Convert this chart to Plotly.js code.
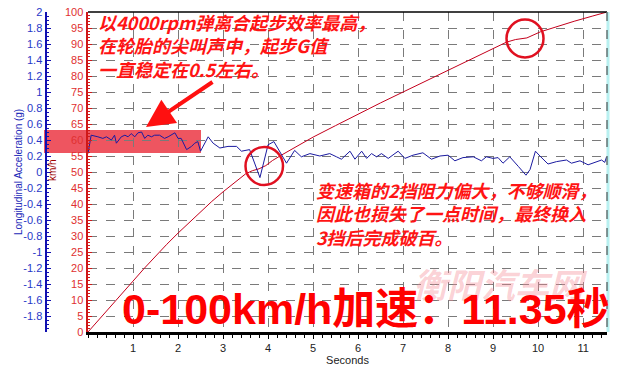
<!DOCTYPE html>
<html>
<head>
<meta charset="utf-8">
<script src="https://cdn.plot.ly/plotly-3.0.1.min.js"></script>
<style>html,body{margin:0;padding:0;background:#fff;}#chart{width:620px;height:369px;}</style>
</head>
<body>
<div id="chart"></div>
<script>
// ---- data ----
const speedTime = [0,0.25,0.5,0.75,1.0,1.25,1.5,1.75,2.0,2.25,2.5,2.75,3.0,3.25,3.5,3.65,3.8,3.95,4.1,4.3,4.6,5.0,5.5,6.0,6.5,7.0,7.5,8.0,8.5,9.0,9.3,9.5,9.75,10.05,10.4,10.8,11.2,11.53];
const speedKmh  = [0,3.9,7.9,11.9,15.9,19.9,23.7,27.4,30.9,34.3,37.6,40.8,43.8,46.7,49.4,50.4,51.0,52.0,53.6,55.3,57.8,60.9,64.5,68.1,71.6,75.0,78.4,81.8,85.2,88.6,90.6,91.4,91.9,93.8,95.4,97.1,98.7,100];

const gTime = [0,0.07,0.22,0.33,0.41,0.52,0.59,0.63,0.74,0.82,0.89,0.96,1.04,1.11,1.19,1.26,1.33,1.41,1.48,1.59,1.70,1.78,1.93,2.0,2.07,2.19,2.30,2.37,2.44,2.50,2.67,2.78,2.93,3.11,3.30,3.41,3.59,3.82,4.0,4.13,4.41,4.59,4.74,4.93,5.15,5.37,5.52,5.63,5.82,5.93,6.08,6.19,6.30,6.41,6.52,6.67,6.89,7.04,7.22,7.44,7.63,7.82,8.0,8.15,8.33,8.56,8.74,8.85,9.0,9.11,9.22,9.37,9.56,9.73,9.82,9.94,10.04,10.22,10.41,10.63,10.74,10.93,11.11,11.22,11.41,11.48,11.52];
const gAccel = [0.23,0.46,0.44,0.42,0.44,0.40,0.46,0.36,0.44,0.46,0.44,0.48,0.44,0.49,0.50,0.42,0.46,0.44,0.46,0.46,0.42,0.44,0.49,0.42,0.42,0.28,0.32,0.36,0.38,0.26,0.44,0.36,0.30,0.32,0.32,0.26,0.28,-0.07,0.34,0.38,0.11,0.27,0.19,0.23,0.20,0.23,0.19,0.16,0.26,0.16,0.26,0.17,0.23,0.19,0.23,0.17,0.26,0.17,0.21,0.24,0.16,0.20,0.21,0.14,0.18,0.19,0.14,0.19,0.17,0.18,0.11,0.19,0.07,-0.04,0.03,0.26,0.20,0.10,0.13,0.15,0.11,0.14,0.09,0.11,0.15,0.12,0.19];

const xTickVals = [1,2,3,4,5,6,7,8,9,10,11];
const kmhTickVals = [0,5,10,15,20,25,30,35,40,45,50,55,60,65,70,75,80,85,90,95,100];
const gTickVals = [-1.8,-1.6,-1.4,-1.2,-1,-0.8,-0.6,-0.4,-0.2,0,0.2,0.4,0.6,0.8,1,1.2,1.4,1.6,1.8,2];
const gTickText = ['-1.8','-1.6','-1.4','-1.2','-1','-0.8','-0.6','-0.4','-0.2','0','0.2','0.4','0.6','0.8','1','1.2','1.4','1.6','1.8','2'];

const note1 = ['以4000rpm弹离合起步效率最高，','在轮胎的尖叫声中，起步G值','一直稳定在0.5左右。'];
const note2 = ['变速箱的2挡阻力偏大，不够顺滑，','因此也损失了一点时间，最终换入','3挡后完成破百。'];
const bigText = '0-100km/h加速：11.35秒';
const watermark = '衡阳汽车网';

// ---- layout helpers (pixel -> paper) ----
const W=620,H=369,ML=0,MR=13,MT=12,MB=37;
const px = x => (x-ML)/(W-ML-MR);
const py = y => (H-MB-y)/(H-MT-MB);

const gridCol = '#7a7a7a';
const tickFont = {family:'Liberation Sans, Arial, sans-serif', size:11};

const traces = [
  {x:speedTime, y:speedKmh, type:'scatter', mode:'lines', yaxis:'y',
   line:{color:'#c4001c', width:1}, hoverinfo:'skip'},
  {x:gTime, y:gAccel, type:'scatter', mode:'lines', yaxis:'y2',
   line:{color:'#1a1aa0', width:1}, hoverinfo:'skip'}
];

const cjk = 'Noto Sans CJK SC, sans-serif';
const annotations = [];
// watermark
annotations.push({xref:'paper',yref:'paper',x:px(500),y:py(283),text:watermark,showarrow:false,
  xanchor:'center',yanchor:'middle',font:{family:cjk,size:34,color:'rgba(245,140,150,0.4)',weight:'bold',style:'italic'}});
annotations.push({xref:'paper',yref:'paper',x:px(96),y:py(45),text:note1.join('<br>'),showarrow:false,align:'left',
  xanchor:'left',yanchor:'middle',font:{family:cjk,size:18,color:'#ff1414',style:'italic',weight:'bold'}});
annotations.push({xref:'paper',yref:'paper',x:px(314),y:py(213),text:note2.join('<br>'),showarrow:false,align:'left',
  xanchor:'left',yanchor:'middle',font:{family:cjk,size:18,color:'#ff1414',style:'italic',weight:'bold'}});
annotations.push({xref:'paper',yref:'paper',x:px(366),y:py(309),text:bigText,showarrow:false,
  xanchor:'center',yanchor:'middle',font:{family:'Liberation Sans, Noto Sans CJK SC, sans-serif',size:43,color:'#ff0000',weight:'bold'}});
// axis titles
annotations.push({xref:'paper',yref:'paper',x:px(18),y:py(172),text:'Longitudinal Acceleration (g)',showarrow:false,textangle:-90,
  xanchor:'center',yanchor:'middle',font:{family:'Liberation Sans, sans-serif',size:10,color:'#1a28b8'}});
annotations.push({xref:'paper',yref:'paper',x:px(52),y:py(170),text:'km/h',showarrow:false,textangle:-90,
  xanchor:'center',yanchor:'middle',font:{family:'Liberation Sans, sans-serif',size:10,color:'#a00000'}});
// arrow
annotations.push({xref:'paper',yref:'paper',x:px(146),y:py(127),text:'',showarrow:true,ax:68,ay:-46,
  arrowhead:2,arrowsize:1.4,arrowwidth:4,arrowcolor:'#ff1010',standoff:0});

const shapes = [
  {type:'rect',xref:'paper',yref:'paper',x0:px(44),x1:px(201),y0:py(153),y1:py(130),
   fillcolor:'#ee5560',line:{width:0},layer:'below'},
  {type:'line',xref:'paper',yref:'paper',x0:px(88),x1:1,y0:py(12),y1:py(12),line:{color:'#000',width:1.5}},
  {type:'line',xref:'paper',yref:'paper',x0:px(608),x1:px(608),y0:py(12),y1:py(332),line:{color:'#b8f0f0',width:3}},
  {type:'line',xref:'paper',yref:'paper',x0:px(607),x1:px(607),y0:py(12),y1:py(332),line:{color:'#333',width:1,dash:'dash'}},
  {type:'circle',xref:'paper',yref:'paper',x0:px(245.5),x1:px(283),y0:py(185),y1:py(147),line:{color:'#e01020',width:2.5}},
  {type:'circle',xref:'paper',yref:'paper',x0:px(506.5),x1:px(543.5),y0:py(57.5),y1:py(19.5),line:{color:'#e01020',width:2.5}}
];

const layout = {
  width:W, height:H,
  margin:{l:ML,r:MR,t:MT,b:MB,pad:0},
  paper_bgcolor:'#ffffff', plot_bgcolor:'#ffffff',
  showlegend:false,
  xaxis:{domain:[px(88),1], range:[0,11.53], tickvals:xTickVals, ticks:'outside', ticklen:4, tickcolor:'#000',
    showline:true, linecolor:'#000', linewidth:2.5, showgrid:true, gridcolor:gridCol, griddash:'dash', gridwidth:1,
    zeroline:false, tickfont:Object.assign({color:'#222'},tickFont),
    minor:{dtick:0.2, ticks:'outside', ticklen:3, tickcolor:'#000', showgrid:false},
    title:{text:'Seconds', font:{family:'Liberation Sans, sans-serif', size:11, color:'#222'}, standoff:4}},
  yaxis:{range:[0,100], tickvals:kmhTickVals, side:'left', anchor:'x', showline:true, linecolor:'#d01818', linewidth:2.5,
    ticks:'inside', ticklen:4, tickcolor:'#d01818', showgrid:true, gridcolor:gridCol, griddash:'dash', gridwidth:1,
    zeroline:false, tickfont:Object.assign({color:'#e03030'},tickFont),
    minor:{dtick:1, ticks:'inside', ticklen:2, tickcolor:'#d01818', showgrid:false}},
  yaxis2:{range:[-2,2], overlaying:'y', anchor:'free', position:px(45.5), side:'left', tickvals:gTickVals, ticktext:gTickText,
    showline:true, linecolor:'#1010b0', linewidth:2.5, ticks:'inside', ticklen:4, tickcolor:'#1010b0',
    showgrid:false, zeroline:false, tickfont:Object.assign({color:'#2838c8'},tickFont),
    minor:{dtick:0.05, ticks:'inside', ticklen:2, tickcolor:'#1010b0', showgrid:false}},
  shapes:shapes, annotations:annotations
};

Plotly.newPlot('chart', traces, layout, {staticPlot:true, displayModeBar:false});
</script>
</body>
</html>
